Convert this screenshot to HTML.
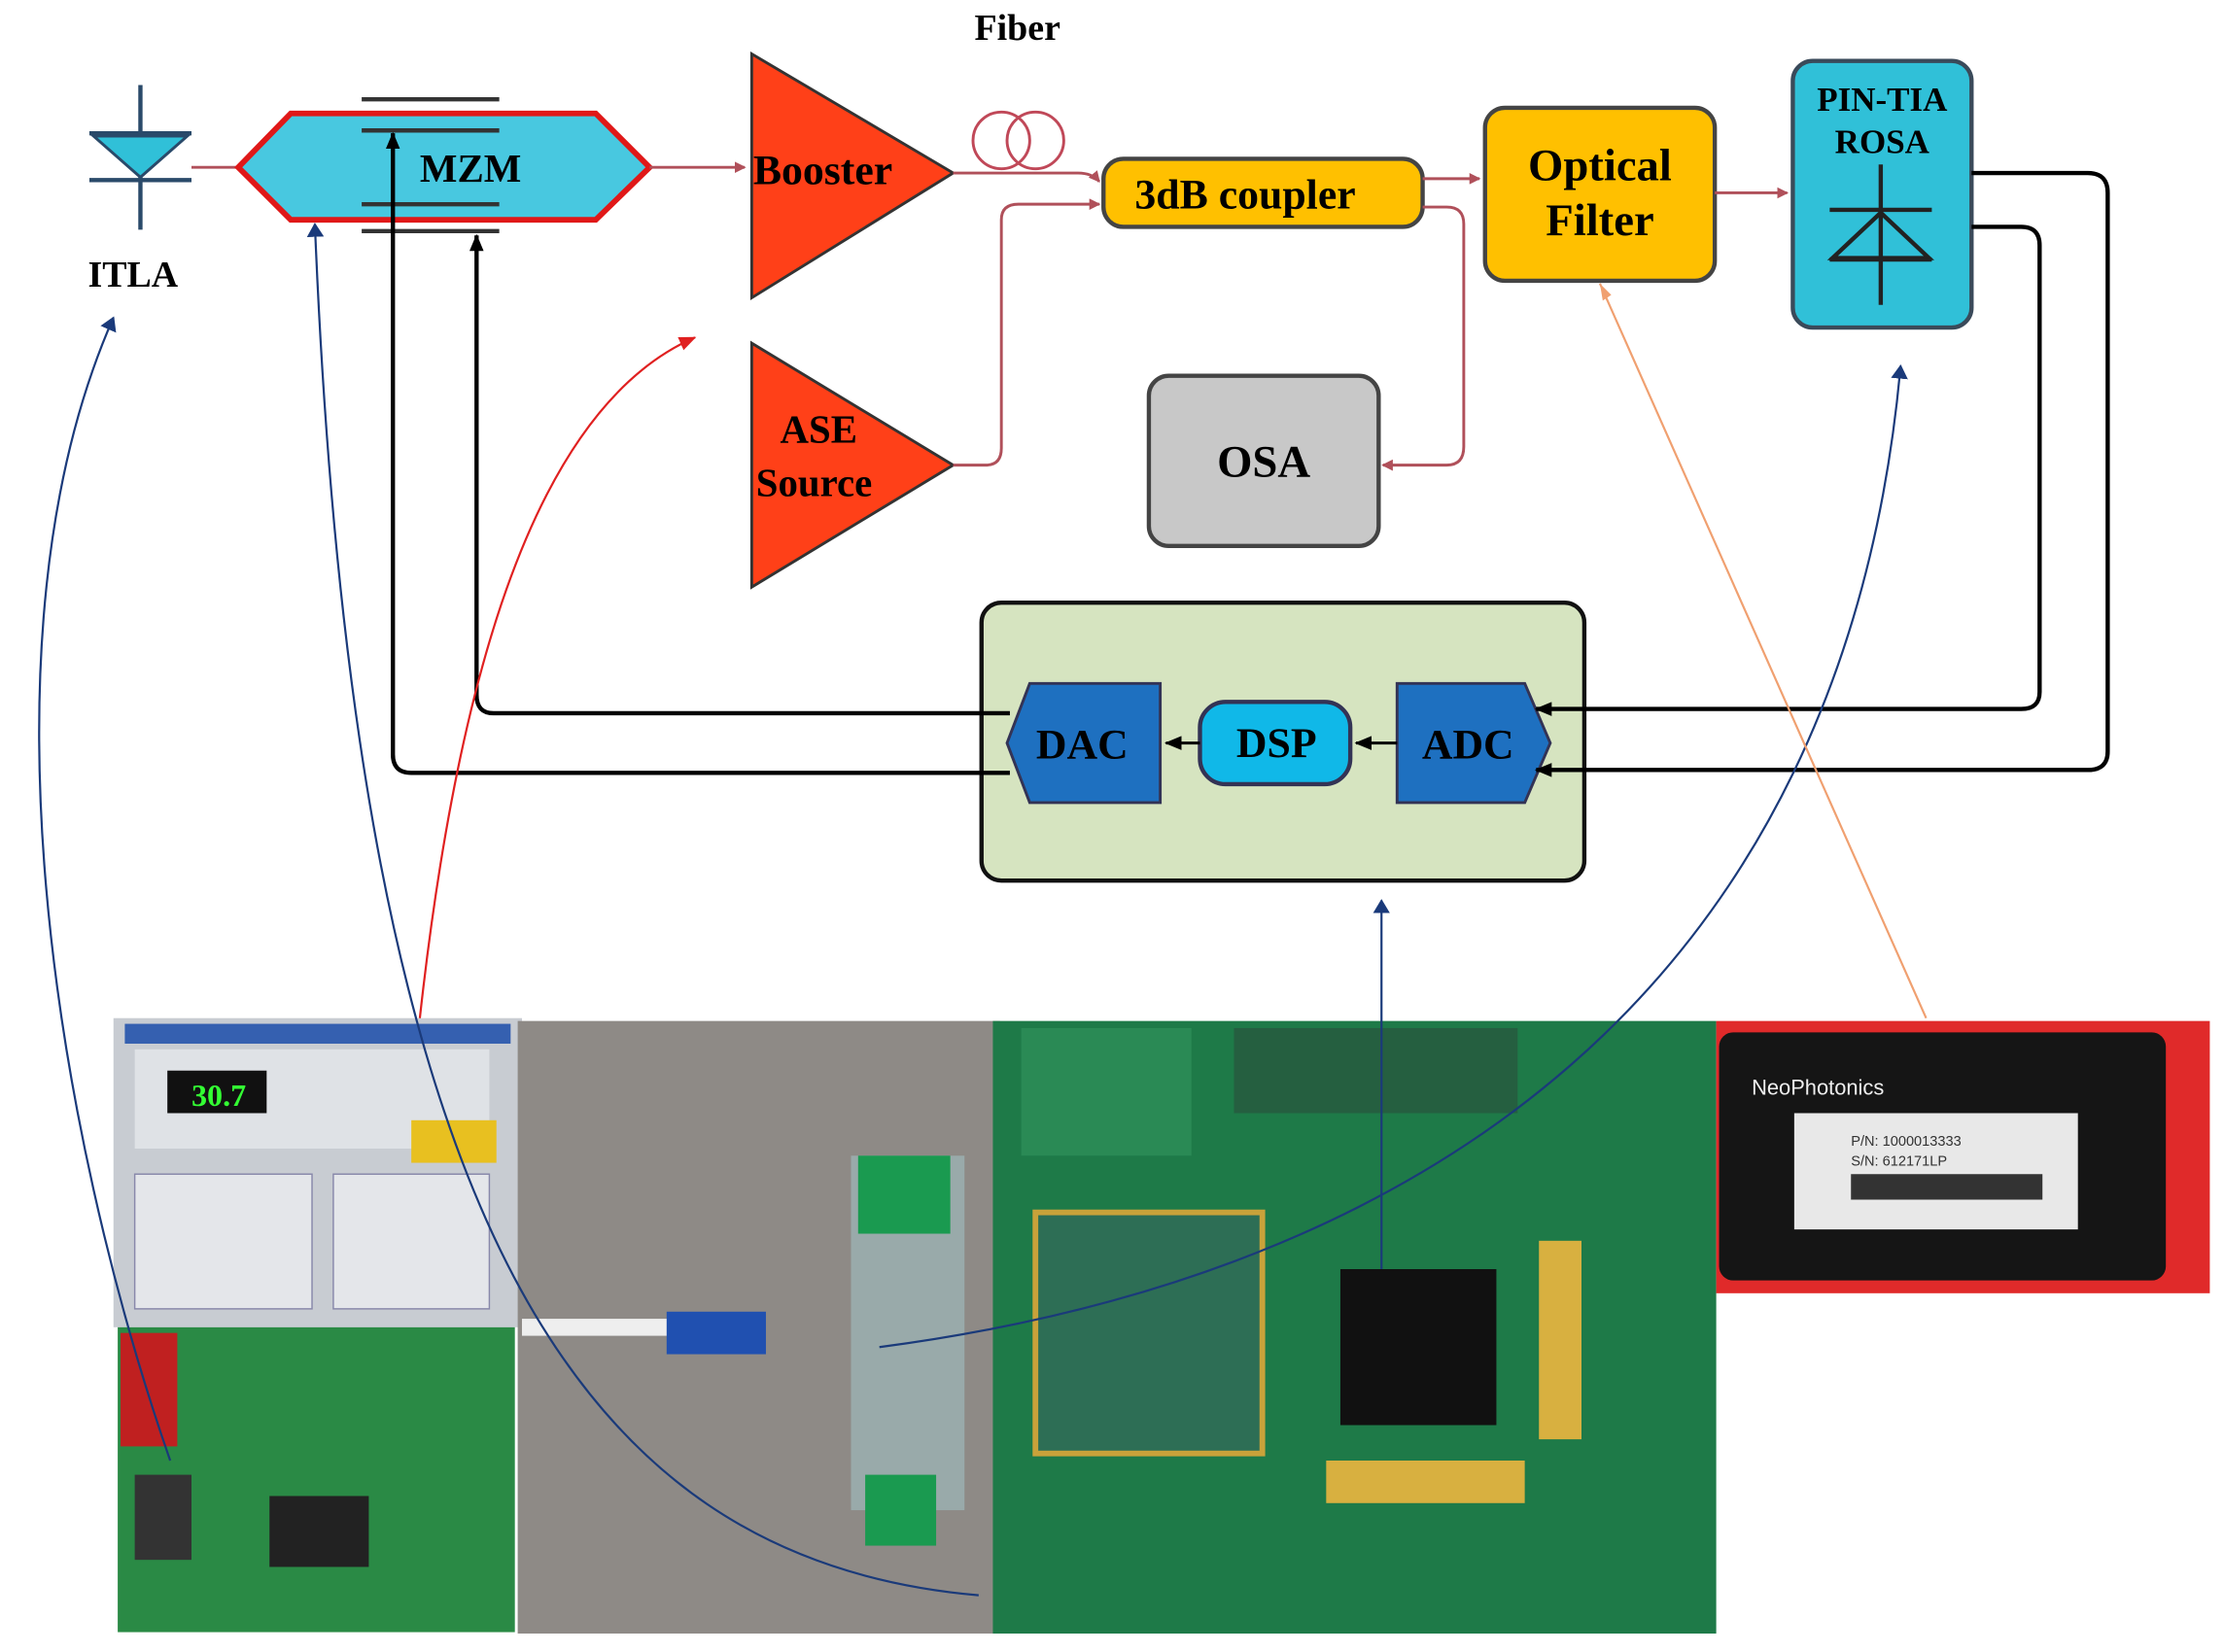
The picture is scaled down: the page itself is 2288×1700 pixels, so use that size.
<!DOCTYPE html>
<html><head><meta charset="utf-8"><style>
html,body{margin:0;padding:0;background:#fff}
svg{display:block}
text{font-family:"Liberation Serif",serif;font-weight:bold}
</style></head><body>
<svg width="2288" height="1700" viewBox="0 0 1568 1165" preserveAspectRatio="none" xmlns="http://www.w3.org/2000/svg">
<defs>
<marker id="ar" markerWidth="8" markerHeight="8" refX="7" refY="4" orient="auto" markerUnits="userSpaceOnUse" viewBox="0 0 8 8"><path d="M0,0 L8,4 L0,8 z" fill="#b0505a"/></marker>
<marker id="ab" markerWidth="12" markerHeight="10" refX="11" refY="5" orient="auto" markerUnits="userSpaceOnUse" viewBox="0 0 12 10"><path d="M0,0 L12,5 L0,10 z" fill="#000"/></marker>
<marker id="an" markerWidth="10" markerHeight="12" refX="9" refY="6" orient="auto" markerUnits="userSpaceOnUse" viewBox="0 0 10 12"><path d="M0,0 L10,6 L0,12 z" fill="#1a3a7a"/></marker>
<marker id="arr" markerWidth="12" markerHeight="10" refX="11" refY="5" orient="auto" markerUnits="userSpaceOnUse" viewBox="0 0 12 10"><path d="M0,0 L12,5 L0,10 z" fill="#e02020"/></marker>
</defs>

<rect x="80" y="718" width="288" height="218" fill="#c8ccd2"/>
<rect x="88" y="722" width="272" height="14" fill="#3560b0"/>
<rect x="95" y="740" width="250" height="70" fill="#dfe2e6"/>
<rect x="118" y="755" width="70" height="30" fill="#111"/><text x="135" y="780" font-size="22" fill="#3f3">30.7</text>
<rect x="132" y="838" width="68" height="30" fill="#111"/><text x="145" y="863" font-size="22" fill="#3f3">009</text>
<rect x="95" y="828" width="125" height="95" fill="#e4e6ea" stroke="#88a" />
<rect x="235" y="828" width="110" height="95" fill="#e4e6ea" stroke="#88a"/>
<rect x="290" y="790" width="60" height="30" fill="#e8c020"/>
<rect x="83" y="936" width="280" height="215" fill="#2a8a45"/>
<rect x="85" y="940" width="40" height="80" fill="#c02020"/>
<rect x="190" y="1055" width="70" height="50" fill="#222"/>
<rect x="95" y="1040" width="40" height="60" fill="#333"/>
<rect x="365" y="720" width="340" height="432" fill="#8e8a86"/>
<rect x="368" y="930" width="130" height="12" fill="#eee"/>
<rect x="470" y="925" width="70" height="30" fill="#2050b0"/>
<rect x="600" y="815" width="80" height="250" fill="#9aa" />
<rect x="610" y="1040" width="50" height="50" fill="#1a9a50"/>
<rect x="605" y="815" width="65" height="55" fill="#1a9a50"/>
<rect x="700" y="720" width="510" height="432" fill="#1e7a48"/>
<rect x="720" y="725" width="120" height="90" fill="#2a8a55"/>
<rect x="730" y="855" width="160" height="170" fill="#2d6e55" stroke="#c9a23a" stroke-width="4"/>
<rect x="945" y="895" width="110" height="110" fill="#111"/>
<rect x="1085" y="875" width="30" height="140" fill="#d8b040"/>
<rect x="935" y="1030" width="140" height="30" fill="#d8b040"/>
<rect x="870" y="725" width="200" height="60" fill="#255f40"/>
<rect x="1210" y="720" width="348" height="192" fill="#e02a2a"/>
<rect x="1212" y="728" width="315" height="175" rx="10" fill="#151515"/>
<rect x="1265" y="785" width="200" height="82" fill="#e8e8e8"/>
<text x="1235" y="772" font-size="15" fill="#eee" style="font-family:'Liberation Sans',sans-serif;font-weight:normal">NeoPhotonics</text>
<text x="1305" y="808" font-size="10" fill="#333" style="font-family:'Liberation Sans',sans-serif;font-weight:normal">P/N: 1000013333</text>
<text x="1305" y="822" font-size="10" fill="#333" style="font-family:'Liberation Sans',sans-serif;font-weight:normal">S/N: 612171LP</text>
<rect x="1305" y="828" width="135" height="18" fill="#333"/>

<line x1="99" y1="60" x2="99" y2="162" stroke="#2a4a6a" stroke-width="3"/>
<line x1="63" y1="94" x2="135" y2="94" stroke="#2a4a6a" stroke-width="3"/>
<line x1="63" y1="127" x2="135" y2="127" stroke="#2a4a6a" stroke-width="3"/>
<path d="M66,96 L132,96 L99,125 z" fill="#30c0d8" stroke="#2a4a6a" stroke-width="2"/>
<text x="62" y="202" font-size="26">ITLA</text>
<line x1="135" y1="118" x2="168" y2="118" stroke="#b0505a" stroke-width="2"/>

<path d="M168,118 L205,80 L420,80 L458,118 L420,155 L205,155 z" fill="#48c8e0" stroke="#e01818" stroke-width="4"/>
<line x1="255" y1="70" x2="352" y2="70" stroke="#333" stroke-width="3"/>
<line x1="255" y1="92" x2="352" y2="92" stroke="#333" stroke-width="3"/>
<line x1="255" y1="144" x2="352" y2="144" stroke="#333" stroke-width="3"/>
<line x1="255" y1="163" x2="352" y2="163" stroke="#333" stroke-width="3"/>
<text x="296" y="128" font-size="28">MZM</text>
<line x1="458" y1="118" x2="525" y2="118" stroke="#b0505a" stroke-width="2" marker-end="url(#ar)"/>

<path d="M530,38 L672,122 L530,210 z" fill="#ff4018" stroke="#333" stroke-width="2"/>
<text x="531" y="130" font-size="30">Booster</text>
<text x="687" y="28" font-size="26">Fiber</text>
<circle cx="706" cy="99" r="20" fill="none" stroke="#c04858" stroke-width="2"/>
<circle cx="730" cy="99" r="20" fill="none" stroke="#c04858" stroke-width="2"/>
<path d="M672,122 L760,122 Q770,122 775,128" fill="none" stroke="#b0505a" stroke-width="2" marker-end="url(#ar)"/>

<path d="M530,242 L672,328 L530,414 z" fill="#ff4018" stroke="#333" stroke-width="2"/>
<text x="550" y="312" font-size="28">ASE</text>
<text x="533" y="350" font-size="28">Source</text>
<path d="M672,328 L695,328 Q706,328 706,316 L706,155 Q706,144 718,144 L775,144" fill="none" stroke="#b0505a" stroke-width="2" marker-end="url(#ar)"/>

<rect x="778" y="112" width="225" height="48" rx="14" fill="#ffc000" stroke="#444" stroke-width="3"/>
<text x="800" y="147" font-size="30">3dB coupler</text>
<path d="M1003,126 L1043,126" stroke="#b0505a" stroke-width="2" marker-end="url(#ar)"/>
<path d="M1003,146 L1020,146 Q1032,146 1032,158 L1032,315 Q1032,328 1020,328 L975,328" fill="none" stroke="#b0505a" stroke-width="2" marker-end="url(#ar)"/>

<rect x="1047" y="76" width="162" height="122" rx="14" fill="#ffc000" stroke="#444" stroke-width="3"/>
<text x="1128" y="127" font-size="32" text-anchor="middle">Optical</text>
<text x="1128" y="166" font-size="32" text-anchor="middle">Filter</text>
<path d="M1209,136 L1260,136" stroke="#b0505a" stroke-width="2" marker-end="url(#ar)"/>

<rect x="1264" y="43" width="126" height="188" rx="14" fill="#30c0d8" stroke="#3a4a5a" stroke-width="3"/>
<text x="1327" y="78" font-size="24" text-anchor="middle">PIN-TIA</text>
<text x="1327" y="108" font-size="24" text-anchor="middle">ROSA</text>
<line x1="1326" y1="116" x2="1326" y2="215" stroke="#222" stroke-width="3"/>
<line x1="1290" y1="148" x2="1362" y2="148" stroke="#222" stroke-width="3"/>
<line x1="1290" y1="183" x2="1362" y2="183" stroke="#222" stroke-width="3"/>
<path d="M1292,182 L1360,182 L1326,150 z" fill="none" stroke="#222" stroke-width="3"/>

<rect x="810" y="265" width="162" height="120" rx="14" fill="#c8c8c8" stroke="#444" stroke-width="3"/>
<text x="891" y="336" font-size="32" text-anchor="middle">OSA</text>

<rect x="692" y="425" width="425" height="196" rx="14" fill="#d6e4c0" stroke="#111" stroke-width="3"/>
<path d="M726,482 L818,482 L818,566 L726,566 L710,524 z" fill="#1e70c0" stroke="#335" stroke-width="2"/>
<text x="763" y="535" font-size="30" text-anchor="middle">DAC</text>
<rect x="846" y="495" width="106" height="58" rx="18" fill="#10b8e8" stroke="#335" stroke-width="3"/>
<text x="900" y="534" font-size="30" text-anchor="middle">DSP</text>
<path d="M985,482 L1075,482 L1093,524 L1075,566 L985,566 z" fill="#1e70c0" stroke="#335" stroke-width="2"/>
<text x="1035" y="535" font-size="30" text-anchor="middle">ADC</text>
<line x1="846" y1="524" x2="822" y2="524" stroke="#000" stroke-width="2" marker-end="url(#ab)"/>
<line x1="985" y1="524" x2="956" y2="524" stroke="#000" stroke-width="2" marker-end="url(#ab)"/>

<path d="M1390,160 L1425,160 Q1438,160 1438,173 L1438,488 Q1438,500 1425,500 L1083,500" fill="none" stroke="#000" stroke-width="3" marker-end="url(#ab)"/>
<path d="M1390,122 L1472,122 Q1486,122 1486,136 L1486,530 Q1486,543 1472,543 L1083,543" fill="none" stroke="#000" stroke-width="3" marker-end="url(#ab)"/>
<path d="M712,503 L348,503 Q336,503 336,490 L336,166" fill="none" stroke="#000" stroke-width="3" marker-end="url(#ab)"/>
<path d="M712,545 L290,545 Q277,545 277,532 L277,94" fill="none" stroke="#000" stroke-width="3" marker-end="url(#ab)"/>

<path d="M120,1030 C40,800 -20,450 80,224" fill="none" stroke="#1a3a7a" stroke-width="1.5" marker-end="url(#an)"/>
<path d="M690,1125 C400,1100 250,850 222,158" fill="none" stroke="#1a3a7a" stroke-width="1.5" marker-end="url(#an)"/>
<path d="M296,718 C320,500 370,290 490,238" fill="none" stroke="#e02020" stroke-width="1.5" marker-end="url(#arr)"/>
<line x1="974" y1="895" x2="974" y2="635" stroke="#1a3a7a" stroke-width="1.5" marker-end="url(#an)"/>
<path d="M620,950 C1000,900 1300,700 1340,258" fill="none" stroke="#1a3a7a" stroke-width="1.5" marker-end="url(#an)"/>
<line x1="1358" y1="718" x2="1128" y2="200" stroke="#f0a070" stroke-width="1.5"/>
<path d="M1128,200 l2,12 l6,-4 z" fill="#f0a070"/>
</svg>
</body></html>
